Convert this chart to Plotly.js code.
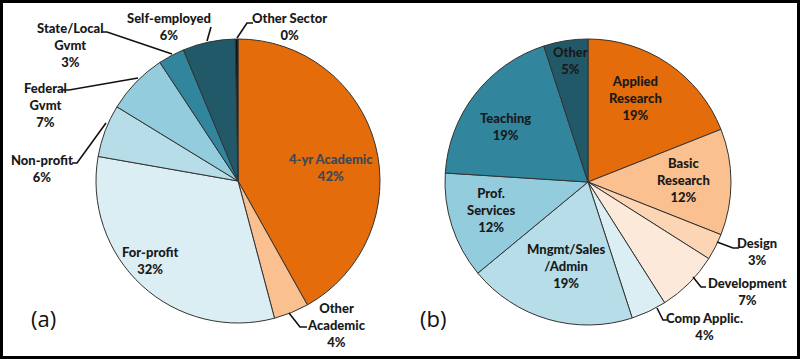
<!DOCTYPE html>
<html>
<head>
<meta charset="utf-8">
<script src="https://cdn.plot.ly/plotly-3.0.1.min.js"></script>
<style>html,body{margin:0;padding:0;background:#fff;}#chart{width:800px;height:359px;}</style>
</head>
<body>
<div id="chart"></div>
<script>
// ---- Data: chart (a) employment sector ----
const catsA = ['4-yr Academic', 'Other Academic', 'For-profit', 'Non-profit', 'Federal Gvmt', 'State/Local Gvmt', 'Self-employed', 'Other Sector'];
const valsA = [42, 4, 32, 6, 7, 3, 6, 0.3];
const pctA = ['42%', '4%', '32%', '6%', '7%', '3%', '6%', '0%'];
const textA = ['4-yr Academic', 'Other<br>Academic', 'For-profit', 'Non-profit', 'Federal<br>Gvmt', 'State/Local<br>Gvmt', 'Self-employed', 'Other Sector'];

// ---- Data: chart (b) primary work activity ----
const catsB = ['Applied Research', 'Basic Research', 'Design', 'Development', 'Comp Applic.', 'Mngmt/Sales/Admin', 'Prof. Services', 'Teaching', 'Other'];
const valsB = [19, 12, 3, 7, 4, 19, 12, 19, 5];
const pctB = ['19%', '12%', '3%', '7%', '4%', '19%', '12%', '19%', '5%'];
const textB = ['Applied<br>Research', 'Basic<br>Research', 'Design', 'Development', 'Comp Applic.', 'Mngmt/Sales<br>/Admin', 'Prof.<br>Services', 'Teaching', 'Other'];

// ---- Styles ----
const colorsA = ['#E46C0A', '#FAC090', '#DBEEF4', '#B7DEE8', '#93CDDD', '#31859C', '#215968', '#111111'];
const colorsB = ['#E46C0A', '#FAC090', '#FCD5B5', '#FDE9D9', '#DBEEF4', '#B7DEE8', '#93CDDD', '#31859C', '#215968'];
const textColorA = ['#3b4858', '#1a1a1a', '#1a1a1a', '#1a1a1a', '#1a1a1a', '#1a1a1a', '#1a1a1a', '#1a1a1a'];

// label block centres in pixels
const posA = [[331,167],[336,325],[150,260],[42,168],[45,105],[70,45],[169,27],[289,27]];
const posB = [[635,98],[683,180],[757,251],[747,291],[704,326],[566,266],[491,210],[505,126],[570,60]];

// leader lines in pixels
const leaders = [
  [[101,32],[107,32],[172,54]],
  [[211,27],[207,41]],
  [[253,23],[247,23],[237,38]],
  [[63,90],[69,90],[138,78]],
  [[72,163],[77,163],[106,123]],
  [[289,313],[300,327],[307,327]],
  [[717,242],[733,248],[739,248]],
  [[693,277],[701,287],[706,287]],
  [[657,308],[663,320],[667,320]]
];

const W = 800, H = 359;
const px = x => x / W;
const py = y => 1 - y / H;

const lineStyle = {color: '#333333', width: 1};

const traces = [
  {
    type: 'pie', labels: catsA, values: valsA, sort: false, direction: 'clockwise', rotation: 0,
    marker: {colors: colorsA, line: lineStyle},
    textinfo: 'none', hoverinfo: 'label+percent',
    domain: {x: [96/W, 380/W], y: [py(323), py(39)]}
  },
  {
    type: 'pie', labels: catsB, values: valsB, sort: false, direction: 'clockwise', rotation: 0,
    marker: {colors: colorsB, line: lineStyle},
    textinfo: 'none', hoverinfo: 'label+percent',
    domain: {x: [445/W, 731/W], y: [py(325), py(39)]}
  }
];

const labelFont = {family: 'Lato, "Open Sans", sans-serif', size: 13, weight: 900};
const annotations = [];
textA.forEach((t, i) => annotations.push({
  xref: 'paper', yref: 'paper', x: px(posA[i][0]), y: py(posA[i][1]),
  xanchor: 'center', yanchor: 'middle', showarrow: false, align: 'center',
  text: t + '<br>' + pctA[i], font: Object.assign({}, labelFont, {color: textColorA[i]})
}));
textB.forEach((t, i) => annotations.push({
  xref: 'paper', yref: 'paper', x: px(posB[i][0]), y: py(posB[i][1]),
  xanchor: 'center', yanchor: 'middle', showarrow: false, align: 'center',
  text: t + '<br>' + pctB[i], font: Object.assign({}, labelFont, {color: '#1a1a1a'})
}));
annotations.push({xref: 'paper', yref: 'paper', x: px(43), y: py(318), xanchor: 'center', yanchor: 'middle', showarrow: false,
  text: '(a)', font: {family: '"Open Sans", sans-serif', size: 22, color: '#111'}});
annotations.push({xref: 'paper', yref: 'paper', x: px(433), y: py(318), xanchor: 'center', yanchor: 'middle', showarrow: false,
  text: '(b)', font: {family: '"Open Sans", sans-serif', size: 22, color: '#111'}});

const shapes = leaders.map(pts => ({
  type: 'path', xref: 'paper', yref: 'paper',
  path: pts.map((p, i) => (i ? 'L' : 'M') + px(p[0]) + ',' + py(p[1])).join(' '),
  line: {color: '#111', width: 1.6}
}));
shapes.push({type: 'rect', xref: 'paper', yref: 'paper', x0: 0, x1: 1, y0: 0, y1: 1, line: {color: '#000', width: 6}});

const layout = {
  width: W, height: H, margin: {l: 0, r: 0, t: 0, b: 0},
  paper_bgcolor: '#fff', plot_bgcolor: '#fff', showlegend: false,
  annotations: annotations, shapes: shapes
};

Plotly.newPlot('chart', traces, layout, {displayModeBar: false, staticPlot: true});
</script>
</body>
</html>
